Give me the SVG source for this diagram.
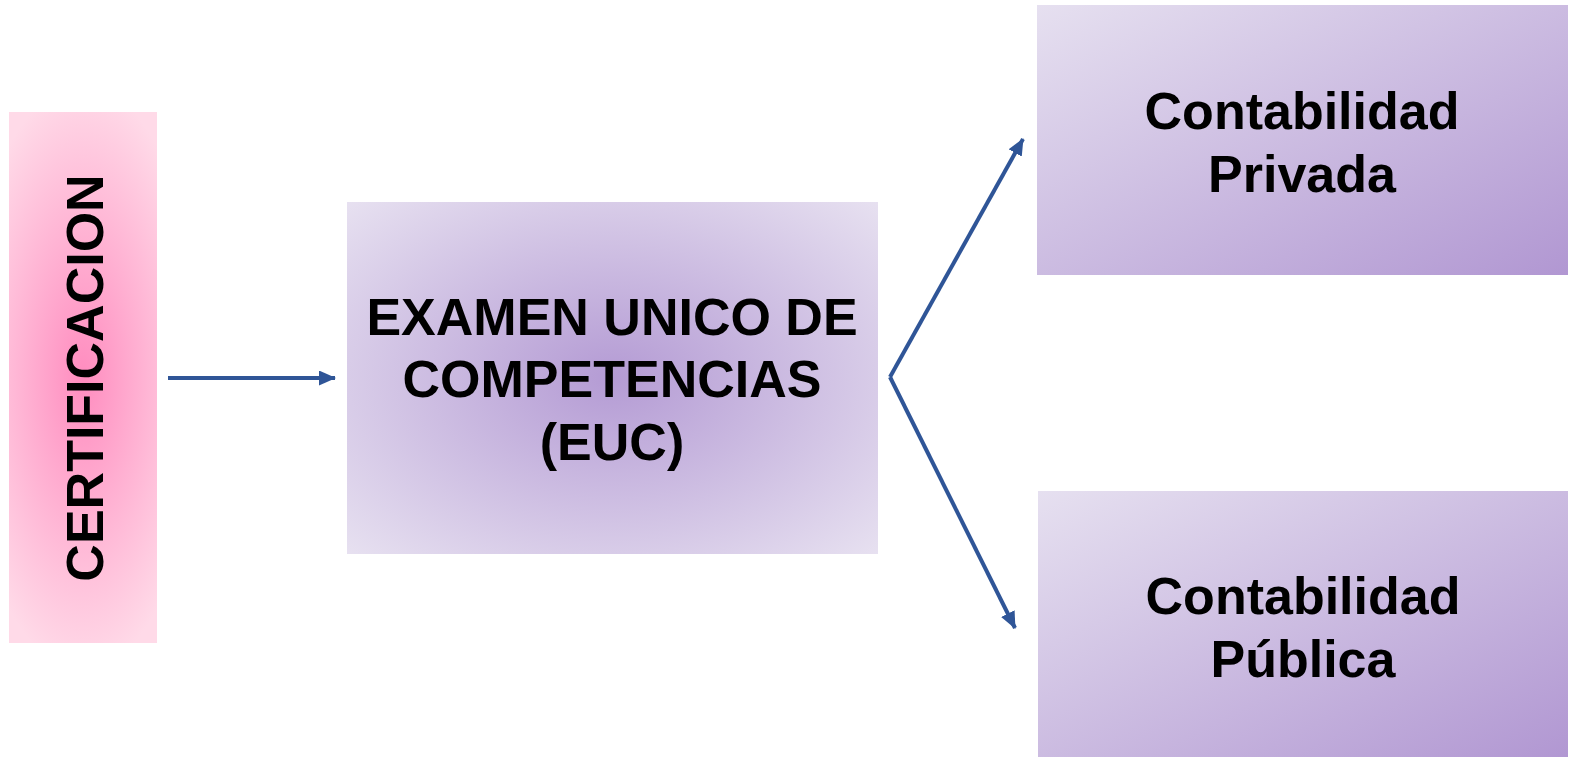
<svg xmlns="http://www.w3.org/2000/svg" width="1579" height="762" viewBox="0 0 1579 762">
<style>
.lbl{font-family:"Liberation Sans",Arial,sans-serif;font-weight:bold;font-size:52px;fill:#000;text-anchor:middle}
.conn{stroke:#2f5597;stroke-width:4;fill:none;marker-end:url(#ah)}
</style>
<defs>
<radialGradient id="pink" cx="0.5" cy="0.5" r="0.55" gradientTransform="translate(0.5 0.5) scale(1.5 1) translate(-0.5 -0.5)">
<stop offset="0" stop-color="#ff8cbf"/>
<stop offset="1" stop-color="#ffdae8"/>
</radialGradient>
<radialGradient id="mid" cx="0.5" cy="0.5" r="0.72">
<stop offset="0" stop-color="#b49bd4"/>
<stop offset="1" stop-color="#e8e2f1"/>
</radialGradient>
<linearGradient id="side" x1="0" y1="0" x2="1" y2="1">
<stop offset="0" stop-color="#e6e0f0"/>
<stop offset="1" stop-color="#b197d2"/>
</linearGradient>
<marker id="ah" viewBox="0 0 17 15" refX="16" refY="7.5" markerWidth="17" markerHeight="15" markerUnits="userSpaceOnUse" orient="auto">
<path d="M0,0 L17,7.5 L0,15 z" fill="#2f5597"/>
</marker>
</defs>
<rect width="1579" height="762" fill="#fff"/>
<g id="connectors">
<line class="conn" x1="168" y1="378" x2="335" y2="378"/>
<line class="conn" x1="890" y1="377" x2="1023" y2="139"/>
<line class="conn" x1="890" y1="377" x2="1015" y2="628"/>
</g>
<g id="certificacion">
<rect x="9" y="112" width="148" height="531" fill="url(#pink)"/>
<text class="lbl" transform="translate(103 378) rotate(-90)">CERTIFICACION</text>
</g>
<g id="euc">
<rect x="347" y="202" width="531" height="352" fill="url(#mid)"/>
<text class="lbl" x="612" y="335">EXAMEN UNICO DE</text>
<text class="lbl" x="612" y="397">COMPETENCIAS</text>
<text class="lbl" x="612" y="460">(EUC)</text>
</g>
<g id="privada">
<rect x="1037" y="5" width="531" height="270" fill="url(#side)"/>
<text class="lbl" x="1302" y="129">Contabilidad</text>
<text class="lbl" x="1302" y="192">Privada</text>
</g>
<g id="publica">
<rect x="1038" y="491" width="530" height="266" fill="url(#side)"/>
<text class="lbl" x="1303" y="614">Contabilidad</text>
<text class="lbl" x="1303" y="677">Pública</text>
</g>
</svg>
